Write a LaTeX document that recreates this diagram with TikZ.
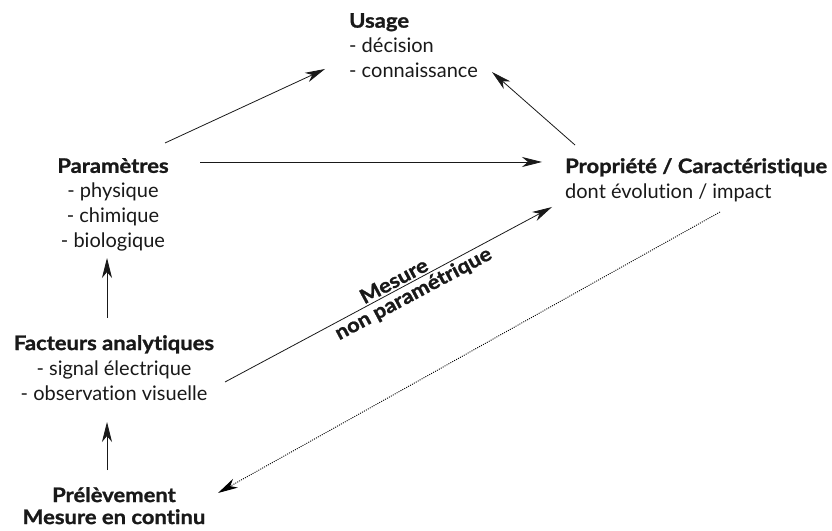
\documentclass[tikz,border=0pt]{standalone}
\usepackage{fontspec}
\setmainfont{Lato}[Ligatures = NoCommon, BoldFeatures = {FakeStretch = 1.1, FakeBold = 1.2}]
\usetikzlibrary{arrows.meta}

\begin{document}
\begin{tikzpicture}[x=1pt,y=1pt,
bloc/.style = {inner sep = 0pt, text = black!90, font = \fontsize{20}{25}\selectfont},
fleche/.style = {-{Stealth[length = 20pt, width = 10pt, inset = 6pt]}, line width = 0.8pt, black!90},
pointille/.style = {fleche, dash pattern = on 1pt off 1.2pt, line width = 0.9pt, black},
]
\useasboundingbox (0,0) rectangle (832,530);

\node[bloc, anchor = north west, align = left] (usage) at (349,517) {\textbf{Usage}\\- décision\\- connaissance};
\node[bloc, anchor = north, align = center] (param) at (113,372) {\textbf{Paramètres}\\- physique\\- chimique\\- biologique};
\node[bloc, anchor = north west, align = left] (prop) at (565,372) {\textbf{Propriété / Caractéristique}\\dont évolution / impact};
\node[bloc, anchor = north, align = center] (facteurs) at (114,195) {\textbf{Facteurs analytiques}\\- signal électrique\\- observation visuelle};
\node[bloc, anchor = north, align = center, font = \fontsize{20}{22}\selectfont\bfseries] (prelev) at (114,43) {Prélèvement\\Mesure en continu};

\draw[fleche] ([xshift = 52pt, yshift = 15pt]param.north) -- ([xshift = -24pt, yshift = -56pt]usage.north west);
\draw[fleche] ([xshift = 10pt, yshift = 13pt]prop.north west) -- ([xshift = 143pt, yshift = -59pt]usage.north west);
\draw[fleche] ([xshift = 87pt, yshift = -4pt]param.north) -- ([xshift = -23pt, yshift = -4pt]prop.north west);
\draw[fleche] ([xshift = 111pt, yshift = -47pt]facteurs.north) -- ([xshift = -13pt, yshift = -49pt]prop.north west)
  node[pos = 0.53, above, sloped, inner sep = 2pt, font = \fontsize{20}{22}\selectfont\bfseries] {Mesure}
  node[pos = 0.56, below, sloped, inner sep = 2pt, font = \fontsize{20}{22}\selectfont\bfseries] {non paramétrique};
\draw[fleche] ([xshift = -7pt, yshift = 17pt]facteurs.north) -- ([xshift = -6pt, yshift = -100pt]param.north);
\draw[fleche] ([xshift = -7pt, yshift = 17pt]prelev.north) -- ([xshift = -7pt, yshift = -87pt]facteurs.north);
\draw[pointille] ([xshift = 155pt, yshift = -54pt]prop.north west) -- ([xshift = 104pt, yshift = -6pt]prelev.north);
\end{tikzpicture}
\end{document}
